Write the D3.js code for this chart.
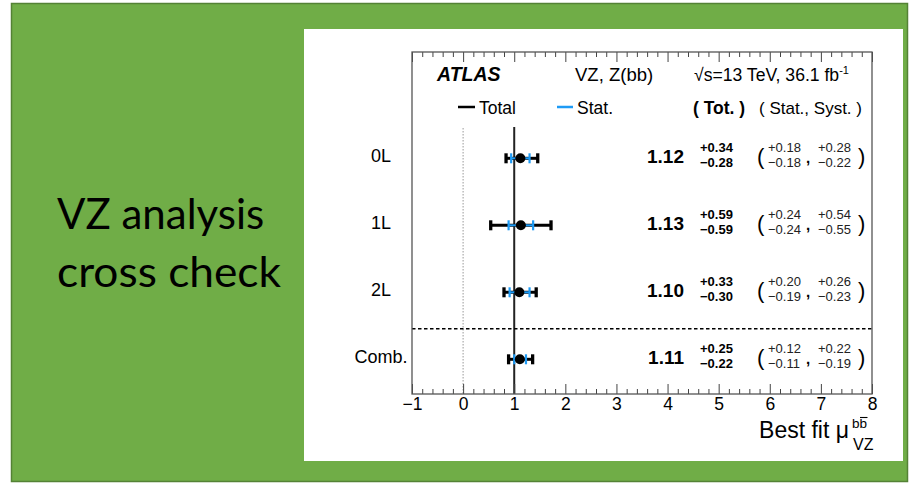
<!DOCTYPE html>
<html>
<head>
<meta charset="utf-8">
<script src="https://cdn.jsdelivr.net/npm/d3@7"></script>
<style>
  html, body { margin: 0; padding: 0; background: #ffffff; }
  svg { display: block; }
</style>
</head>
<body>
<svg id="slide" width="909" height="483"></svg>
<script>
// Signal-strength fits per channel
const channels   = ["0L", "1L", "2L", "Comb."];
const central    = [1.12, 1.13, 1.10, 1.11];
const totUp      = [0.34, 0.59, 0.33, 0.25];
const totDown    = [0.28, 0.59, 0.30, 0.22];
const statUp     = [0.18, 0.24, 0.20, 0.12];
const statDown   = [0.18, 0.24, 0.19, 0.11];
const systUp     = [0.28, 0.54, 0.26, 0.22];
const systDown   = [0.22, 0.55, 0.23, 0.19];
const xTicks     = [-1, 0, 1, 2, 3, 4, 5, 6, 7, 8];

const svg = d3.select("#slide");
const F = "'Liberation Sans', Arial, Helvetica, sans-serif";
const BLUE = "#1e9bf5";

// Slide background panel
svg.append("rect").attr("x", 11.5).attr("y", 3.5).attr("width", 896).attr("height", 478)
  .attr("fill", "#70ad47").attr("stroke", "#548235").attr("stroke-width", 1.5);
svg.append("rect").attr("x", 304).attr("y", 29).attr("width", 599).attr("height", 432)
  .attr("fill", "#ffffff");

const title = svg.append("text").attr("font-family", "Lato, 'Open Sans', sans-serif")
  .attr("font-size", 42).attr("fill", "#000");
title.append("tspan").attr("x", 57).attr("y", 229).text("VZ analysis");
title.append("tspan").attr("x", 57).attr("y", 287).attr("textLength", 224)
  .attr("lengthAdjust", "spacingAndGlyphs").text("cross check");

// Plot frame
const x = d3.scaleLinear().domain([-1, 8]).range([412, 872]);
const y = d3.scalePoint().domain(channels).range([158.3, 359.3]);
const frameTop = 52, frameBottom = 394;

const g = svg.append("g");

// Reference lines at mu = 0 (dotted) and mu = 1 (solid)
g.append("line").attr("x1", x(0)).attr("x2", x(0)).attr("y1", 128).attr("y2", frameBottom)
  .attr("stroke", "#aaaaaa").attr("stroke-width", 1.2).attr("stroke-dasharray", "1.5,1.5");
g.append("line").attr("x1", x(1)).attr("x2", x(1)).attr("y1", 127).attr("y2", frameBottom)
  .attr("stroke", "#222").attr("stroke-width", 2);

// Separator above combined result
const ySep = (y("2L") + y("Comb.")) / 2 + 3;
g.append("line").attr("x1", x(-1)).attr("x2", x(8)).attr("y1", ySep).attr("y2", ySep)
  .attr("stroke", "#000").attr("stroke-width", 1.5).attr("stroke-dasharray", "3.5,2.5");

// Axes: major and minor ticks, inside the frame, top and bottom
const minor = d3.range(-5, 41).map(i => i / 5).filter(v => !Number.isInteger(v));
const axB = d3.axisBottom(x).tickValues(xTicks).tickSize(-10).tickPadding(4)
  .tickFormat(d => d < 0 ? "\u2212" + Math.abs(d) : d);
const axBm = d3.axisBottom(x).tickValues(minor).tickSize(-5).tickFormat("");
const axT = d3.axisTop(x).tickValues(xTicks).tickSize(-10).tickFormat("");
const axTm = d3.axisTop(x).tickValues(minor).tickSize(-5).tickFormat("");

function styleAxis(sel) {
  sel.select(".domain").remove();
  sel.selectAll(".tick line").attr("stroke", "#444").attr("stroke-width", 1);
  sel.selectAll(".tick text").attr("font-family", F).attr("font-size", 17.5).attr("fill", "#000");
}
g.append("g").attr("transform", `translate(0,${frameBottom})`).call(axB).call(styleAxis);
g.append("g").attr("transform", `translate(0,${frameBottom})`).call(axBm).call(styleAxis);
g.append("g").attr("transform", `translate(0,${frameTop})`).call(axT).call(styleAxis);
g.append("g").attr("transform", `translate(0,${frameTop})`).call(axTm).call(styleAxis);

g.append("rect").attr("x", x(-1)).attr("y", frameTop).attr("width", x(8) - x(-1)).attr("height", frameBottom - frameTop)
  .attr("fill", "none").attr("stroke", "#555").attr("stroke-width", 1.3);

// Axis title: Best fit mu^{bb-bar}_{VZ}
g.append("text").attr("font-family", F).attr("font-size", 23).attr("fill", "#000")
  .attr("text-anchor", "end").attr("x", 849).attr("y", 438).text("Best fit \u03bc");
g.append("text").attr("font-family", F).attr("font-size", 13.5).attr("x", 852).attr("y", 428).text("b");
g.append("text").attr("font-family", F).attr("font-size", 13.5).attr("x", 859.5).attr("y", 428).text("b");
g.append("line").attr("x1", 860).attr("x2", 867.5).attr("y1", 417.5).attr("y2", 417.5)
  .attr("stroke", "#000").attr("stroke-width", 1.1);
g.append("text").attr("font-family", F).attr("font-size", 16).attr("x", 853).attr("y", 450).text("VZ");

// Header
g.append("text").attr("font-family", F).attr("font-weight", "bold").attr("font-style", "italic")
  .attr("font-size", 19.5).attr("x", 437).attr("y", 81).text("ATLAS");
g.append("text").attr("font-family", F).attr("font-size", 18.5).attr("x", 575).attr("y", 81).text("VZ, Z(bb)");
const en = g.append("text").attr("font-family", F).attr("font-size", 17.6).attr("x", 694).attr("y", 81);
en.append("tspan").text("\u221as=13 TeV, 36.1 fb");
en.append("tspan").attr("font-size", 11).attr("dy", -7).text("-1");

// Legend
g.append("line").attr("x1", 458).attr("x2", 475).attr("y1", 107).attr("y2", 107).attr("stroke", "#000").attr("stroke-width", 2.5);
g.append("text").attr("font-family", F).attr("font-size", 17.5).attr("x", 479).attr("y", 114).text("Total");
g.append("line").attr("x1", 557).attr("x2", 573).attr("y1", 107).attr("y2", 107).attr("stroke", BLUE).attr("stroke-width", 2.5);
g.append("text").attr("font-family", F).attr("font-size", 17.5).attr("x", 577).attr("y", 114).text("Stat.");
g.append("text").attr("font-family", F).attr("font-size", 17.5).attr("font-weight", "bold").attr("x", 693).attr("y", 114).text("( Tot. )");
g.append("text").attr("font-family", F).attr("font-size", 17).attr("x", 759).attr("y", 114).text("( Stat., Syst. )");

// Channel labels
g.selectAll("text.ch").data(channels).join("text").attr("class", "ch")
  .attr("font-family", F).attr("font-size", 18).attr("text-anchor", "middle")
  .attr("x", 381).attr("y", d => y(d) + 3.5).text(d => d);

// Error bars and points
const rows = channels.map((c, i) => ({ c, v: central[i], tu: totUp[i], td: totDown[i],
  su: statUp[i], sd: statDown[i], yu: systUp[i], yd: systDown[i] }));

const rg = g.selectAll("g.row").data(rows).join("g").attr("class", "row");
function bar(sel, lo, hi, color, w, capW, capH) {
  sel.append("line").attr("x1", d => x(lo(d))).attr("x2", d => x(hi(d)))
    .attr("y1", d => y(d.c)).attr("y2", d => y(d.c)).attr("stroke", color).attr("stroke-width", w);
  [lo, hi].forEach(f => sel.append("line").attr("x1", d => x(f(d))).attr("x2", d => x(f(d)))
    .attr("y1", d => y(d.c) - capH).attr("y2", d => y(d.c) + capH)
    .attr("stroke", color).attr("stroke-width", capW));
}
bar(rg, d => d.v - d.td, d => d.v + d.tu, "#000", 3, 3.3, 5);
bar(rg, d => d.v - d.sd, d => d.v + d.su, BLUE, 2, 2.2, 5);
rg.append("circle").attr("cx", d => x(d.v)).attr("cy", d => y(d.c)).attr("r", 5).attr("fill", "#000");

// Numeric summaries
const f2 = v => v.toFixed(2);
rg.append("text").attr("font-family", F).attr("font-weight", "bold").attr("font-size", 19)
  .attr("text-anchor", "end").attr("x", 684).attr("y", d => y(d.c) + 4.5).text(d => f2(d.v));
rg.append("text").attr("font-family", F).attr("font-weight", "bold").attr("font-size", 13)
  .attr("x", 700).attr("y", d => y(d.c) - 6.6).text(d => "+" + f2(d.tu));
rg.append("text").attr("font-family", F).attr("font-weight", "bold").attr("font-size", 13)
  .attr("x", 700).attr("y", d => y(d.c) + 9).text(d => "\u2212" + f2(d.td));
rg.append("text").attr("font-family", F).attr("font-size", 22)
  .attr("x", 757).attr("y", d => y(d.c) + 6).text("(");
rg.append("text").attr("font-family", F).attr("font-size", 13).attr("fill", "#222")
  .attr("x", 768).attr("y", d => y(d.c) - 6.6).text(d => "+" + f2(d.su));
rg.append("text").attr("font-family", F).attr("font-size", 13).attr("fill", "#222")
  .attr("x", 768).attr("y", d => y(d.c) + 9).text(d => "\u2212" + f2(d.sd));
rg.append("text").attr("font-family", F).attr("font-size", 15).attr("font-weight", "bold")
  .attr("x", 806).attr("y", d => y(d.c) + 5).text(",");
rg.append("text").attr("font-family", F).attr("font-size", 13).attr("fill", "#222")
  .attr("x", 818).attr("y", d => y(d.c) - 6.6).text(d => "+" + f2(d.yu));
rg.append("text").attr("font-family", F).attr("font-size", 13).attr("fill", "#222")
  .attr("x", 818).attr("y", d => y(d.c) + 9).text(d => "\u2212" + f2(d.yd));
rg.append("text").attr("font-family", F).attr("font-size", 22)
  .attr("x", 858).attr("y", d => y(d.c) + 6).text(")");
</script>
</body>
</html>
